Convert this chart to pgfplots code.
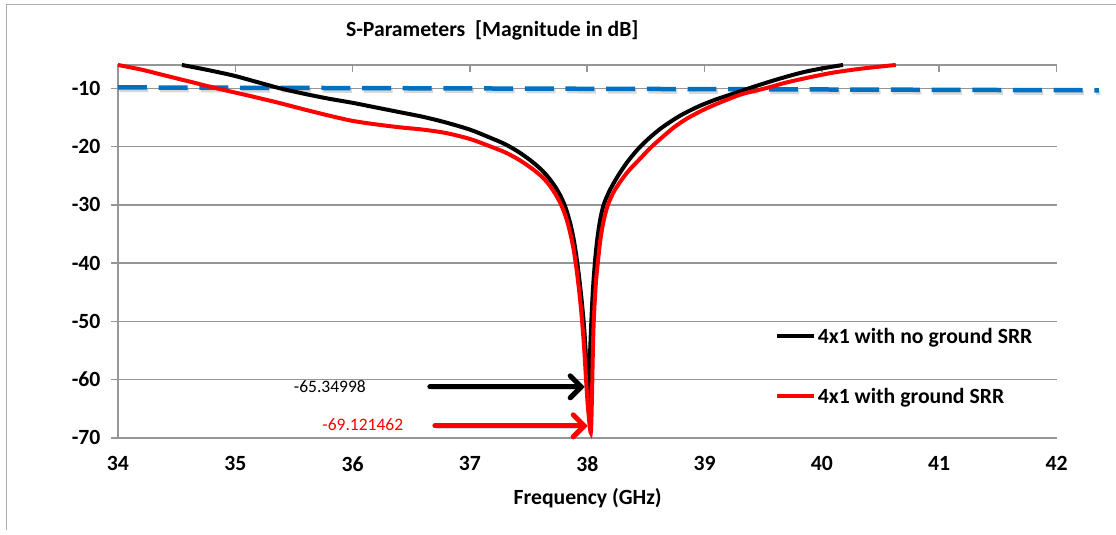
\documentclass[border=0pt]{standalone}
\usepackage{fontspec}
\setmainfont{Carlito}
\usepackage{pgfplots}
\pgfplotsset{compat=1.18}
\usetikzlibrary{arrows.meta}
\definecolor{gridgray}{RGB}{150,150,150}
\definecolor{xlblue}{RGB}{0,112,192}
\newcommand{\lblfont}{\bfseries\fontsize{21.7bp}{25bp}\selectfont}
\tikzset{shadowed/.style={preaction={draw=black!45, opacity=0.35,
    transform canvas={xshift=1.5bp, yshift=-2.5bp}}}}

\begin{document}
\begin{tikzpicture}[x=1bp,y=1bp]
\path (0,0) rectangle (1116,535);
\draw[gridgray!80, line width=1bp] (6.5,5) -- (6.5,530) -- (1116,530);
\begin{axis}[
    at={(118bp,97bp)}, anchor=south west,
    scale only axis, width=939bp, height=373bp,
    xmin=34, xmax=42, ymin=-70, ymax=-6,
    xtick={34,35,...,42}, ytick={-70,-60,...,-10},
    xtick pos=upper, xticklabel pos=lower, ytick pos=left,
    xtick align=inside, ytick align=outside,
    major tick length=7bp,
    tick style={gridgray, line width=1.5bp},
    axis line style={draw=none},
    ymajorgrids, grid style={gridgray, line width=1.5bp},
    clip=false,
    tick label style={font=\lblfont},
    /pgf/number format/assume math mode=true,
    xticklabel style={yshift=-15bp},
    yticklabel style={xshift=-7bp},
    legend style={at={(rel axis cs:0.6997,0.1917)}, anchor=west,
        draw=none, fill=none, inner sep=0pt, row sep=39bp,
        font=\lblfont, nodes={inner sep=2bp}},
    legend cell align=left,
    legend image code/.code={\draw[#1, line width=4bp] (0bp,0bp) -- (37bp,0bp);},
]
\draw[gridgray, line width=1.5bp] (rel axis cs:0,0) -- (rel axis cs:0,1) -- (rel axis cs:1,1);

% -10 dB reference line
\addplot[xlblue, line width=4.5bp, dash pattern=on 29bp off 11.7bp, shadowed, forget plot]
coordinates {(34,-9.85) (42.36,-10.35)};

% 4x1 with no ground SRR
\addplot[black, line width=4bp, smooth, line cap=butt] coordinates {
(34.545,-6.0) (34.75,-6.8) (34.98,-7.8) (35.18,-8.9) (35.38,-10.0)
(35.60,-11.0) (35.80,-11.8) (36.00,-12.5) (36.20,-13.3) (36.40,-14.1)
(36.60,-14.9) (36.80,-15.9) (37.00,-17.1) (37.15,-18.3) (37.30,-19.6)
(37.42,-21.0) (37.53,-22.6) (37.62,-24.2) (37.68,-25.6) (37.73,-27.0)
(37.77,-28.4) (37.80,-29.7) (37.83,-31.4) (37.86,-33.6) (37.885,-36.0)
(37.905,-38.5) (37.925,-41.5) (37.945,-45.0) (37.96,-48.0) (37.975,-51.5)
(37.99,-56.5) (38.00,-60.5) (38.012,-65.35) (38.018,-60.0) (38.025,-55.0)
(38.035,-50.0) (38.047,-45.0) (38.065,-40.0) (38.085,-36.0) (38.11,-32.6)
(38.14,-30.0) (38.19,-27.6) (38.26,-25.1) (38.34,-22.7) (38.43,-20.5)
(38.52,-18.7) (38.62,-17.0) (38.72,-15.6) (38.81,-14.5) (38.95,-13.1)
(39.10,-11.9) (39.25,-10.9) (39.38,-10.0) (39.55,-8.9) (39.70,-8.0)
(39.85,-7.2) (40.00,-6.6) (40.18,-6.0)
};
\addlegendentry{4x1 with no ground SRR}

% 4x1 with ground SRR
\addplot[red, line width=4bp, smooth, line cap=butt] coordinates {
(34.00,-6.0) (34.20,-6.8) (34.40,-7.8) (34.62,-8.9) (34.84,-10.0)
(35.10,-11.2) (35.35,-12.4) (35.60,-13.7) (35.80,-14.7) (36.00,-15.6)
(36.20,-16.2) (36.40,-16.7) (36.60,-17.1) (36.80,-17.7) (37.00,-18.7)
(37.15,-19.8) (37.30,-21.0) (37.42,-22.3) (37.53,-23.8) (37.62,-25.3)
(37.68,-26.7) (37.73,-28.2) (37.77,-29.7) (37.80,-31.1) (37.83,-32.9)
(37.86,-35.3) (37.885,-37.8) (37.905,-40.5) (37.925,-43.7) (37.945,-47.5)
(37.96,-51.0) (37.975,-55.0) (37.99,-60.0) (38.005,-64.5) (38.03,-69.12)
(38.04,-63.0) (38.045,-58.0) (38.052,-52.0) (38.06,-48.0) (38.075,-43.0)
(38.09,-40.0) (38.11,-36.3) (38.135,-33.2) (38.17,-30.4) (38.22,-28.0)
(38.29,-25.8) (38.36,-24.0) (38.45,-22.1) (38.54,-20.2) (38.64,-18.4)
(38.74,-16.7) (38.85,-15.2) (39.00,-13.6) (39.15,-12.3) (39.32,-11.0)
(39.52,-10.0) (39.70,-9.0) (39.90,-8.1) (40.10,-7.3) (40.35,-6.6)
(40.63,-6.0)
};
\addlegendentry{4x1 with ground SRR}
\end{axis}

\node[font=\lblfont] at (492.5,505) {S-Parameters\ \ [Magnitude in dB]};
\node[font=\lblfont] at (588,37) {Frequency (GHz)};

\node[font=\fontsize{17.5bp}{20bp}\selectfont, black] at (330,148) {-65.34998};
\node[font=\fontsize{17.5bp}{20bp}\selectfont, red] at (363,110) {-69.121462};
\draw[black, line width=5bp, line cap=round, shadowed, -{Straight Barb[length=11bp, width=22bp, line cap=round]}]
  (430,148) -- (585,148);
\draw[red, line width=5bp, line cap=round, shadowed, -{Straight Barb[length=11bp, width=22bp, line cap=round]}]
  (435,109) -- (588,109);
\end{tikzpicture}
\end{document}
